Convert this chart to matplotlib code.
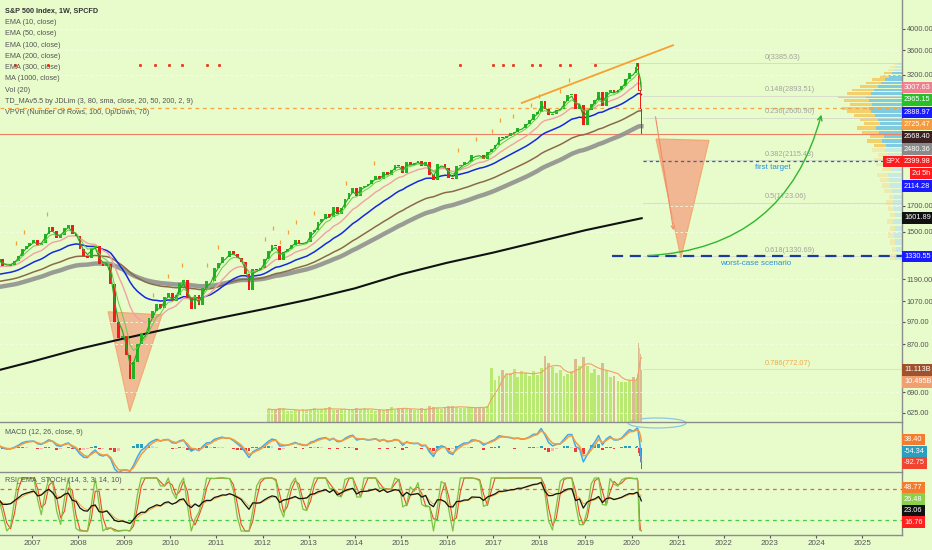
import numpy as np
import pandas as pd
import matplotlib
matplotlib.use("Agg")
import matplotlib.pyplot as plt
from matplotlib.patches import Polygon, FancyArrowPatch, Ellipse
from matplotlib.ticker import FixedLocator, FixedFormatter, NullLocator

plt.rcParams["font.family"] = ["Liberation Sans", "DejaVu Sans"]

BG = "#e8fbcb"
W, H = 932, 550

# ---------------- data ----------------
# monthly closes, Apr 2006 .. Jan 2020
month_closes = [
    1310.6, 1270.1, 1270.2, 1276.7, 1303.8, 1335.9, 1377.9, 1400.6, 1418.3,
    1438.2, 1406.8, 1420.9, 1482.4, 1530.6, 1503.4, 1455.3, 1474.0, 1526.8, 1549.4, 1481.1, 1468.4,
    1378.6, 1330.6, 1322.7, 1385.6, 1400.4, 1280.0, 1267.4, 1282.8, 1166.4, 968.8, 896.2, 903.3,
    825.9, 735.1, 797.9, 872.8, 919.1, 919.3, 987.5, 1020.6, 1057.1, 1036.2, 1095.6, 1115.1,
    1073.9, 1104.5, 1169.4, 1186.7, 1089.4, 1030.7, 1101.6, 1049.3, 1141.2, 1183.3, 1180.6, 1257.6,
    1286.1, 1327.2, 1325.8, 1363.6, 1345.2, 1320.6, 1292.3, 1218.9, 1131.4, 1253.3, 1247.0, 1257.6,
    1312.4, 1365.7, 1408.5, 1397.9, 1310.3, 1362.2, 1379.3, 1406.6, 1440.7, 1412.2, 1416.2, 1426.2,
    1498.1, 1514.7, 1569.2, 1597.6, 1630.7, 1606.3, 1685.7, 1633.0, 1681.6, 1756.5, 1805.8, 1848.4,
    1782.6, 1859.5, 1872.3, 1883.9, 1923.6, 1960.2, 1930.7, 2003.4, 1972.3, 2018.1, 2067.6, 2058.9,
    1995.0, 2104.5, 2067.9, 2085.5, 2107.4, 2063.1, 2103.8, 1972.2, 1920.0, 2079.4, 2080.4, 2043.9,
    1940.2, 1932.2, 2059.7, 2065.3, 2096.9, 2098.9, 2173.6, 2171.0, 2168.3, 2126.2, 2198.8, 2238.8,
    2278.9, 2363.6, 2362.7, 2384.2, 2411.8, 2423.4, 2470.3, 2471.7, 2519.4, 2575.3, 2647.6, 2673.6,
    2823.8, 2713.8, 2640.9, 2648.1, 2705.3, 2718.4, 2816.3, 2901.5, 2914.0, 2711.7, 2760.2, 2506.9,
    2704.1, 2784.5, 2834.4, 2945.8, 2752.1, 2941.8, 2980.4, 2926.5, 2976.7, 3037.6, 3141.0, 3230.8,
    3225.5,
]
first_open = 1294.9
week_dates = ["2020-02-05", "2020-02-12", "2020-02-19", "2020-02-26",
              "2020-03-04", "2020-03-11", "2020-03-18"]
week_closes = [3327.7, 3380.2, 3337.8, 2954.2, 2972.4, 2711.0, 2399.98]

# indicator seeds at the left edge of the chart
seed_ema10, seed_ema20, seed_ema50 = 1300, 1290, 1259
seed_ema100, seed_ema200, seed_ema300 = 1212, 1173, 1143
seed_fast, seed_slow, seed_signal = 1302, 1290, 10

# MA(1000)
ma1000_t = [2006.31, 2007.0, 2008.0, 2009.0, 2010.0, 2011.0, 2012.0, 2013.0,
            2014.0, 2015.0, 2016.0, 2017.0, 2018.0, 2019.0, 2020.22]
ma1000_v = [769, 800, 850, 895, 940, 985, 1030, 1080, 1140, 1220, 1290, 1355, 1430, 1510, 1600]

# weekly-typical volume (billions), monthly Feb 2012 .. Jan 2020, then weekly 2020
vol_month = [
    2.8, 2.5, 2.7, 3.0, 2.9, 2.4, 2.3, 2.6, 2.5, 2.8, 2.6,
    2.7, 2.9, 2.6, 2.8, 2.9, 3.1, 2.5, 2.6, 2.7, 2.8, 2.6, 2.5,
    3.0, 2.8, 2.9, 2.7, 2.5, 2.4, 2.6, 2.5, 2.8, 3.2, 2.6, 2.9,
    3.0, 2.8, 2.7, 2.6, 2.5, 2.9, 2.7, 3.4, 3.2, 2.9, 2.8, 3.1,
    3.5, 3.4, 3.2, 3.0, 2.9, 3.3, 3.1, 3.0, 3.2, 3.0, 3.4, 11.5,
    9.0, 9.8, 11.0, 10.2, 10.5, 11.2, 9.5, 10.8, 10.4, 9.9, 10.8, 10.1,
    11.5, 14.0, 12.5, 11.8, 10.5, 11.0, 9.8, 10.2, 10.8, 13.5, 12.0, 13.8,
    12.0, 10.5, 11.2, 10.0, 12.5, 11.0, 9.5, 9.8, 8.8, 8.5, 8.6, 8.9,
    9.5,
]
vol_week = [9.0, 9.4, 10.2, 16.9, 15.8, 14.5, 11.113]

# visible-range volume profile (rows of 50 points, 1325 .. 3375)
vp_up = [7, 6, 7, 8, 7, 9, 7, 8, 9, 8, 10, 12, 13, 14, 11, 15, 16, 14, 17, 16, 20,
         18, 23, 26, 22, 24, 27, 31, 33, 30, 33, 36, 31, 28, 24, 21, 17, 13, 10, 8, 7, 5]
vp_down = [5, 4, 5, 6, 5, 6, 5, 6, 7, 5, 8, 8, 9, 11, 9, 11, 12, 10, 13, 12, 15,
           14, 17, 19, 16, 18, 21, 24, 27, 22, 25, 28, 24, 22, 18, 15, 13, 9, 8, 6, 5, 3]
vp_value_area = (2275, 3225)

# TD markers
td_dot_t = [2006.63, 2007.35, 2009.34, 2009.67, 2009.97, 2010.25, 2010.79, 2011.05,
            2016.28, 2016.99, 2017.21, 2017.43, 2017.84, 2018.01, 2018.45, 2018.66, 2019.21]
td_dot_level = 3357
td_i_t = [2006.65, 2006.83, 2007.33, 2009.62, 2009.95, 2010.25, 2010.79, 2011.03, 2012.05,
          2012.23, 2012.38, 2012.55, 2012.72, 2013.11, 2013.81, 2014.42, 2016.24, 2016.63,
          2016.97, 2017.15, 2017.43, 2017.82, 2017.99, 2018.45, 2018.64]
td_i_p = [1420, 1498, 1634, 1105, 1211, 1277, 1277, 1393, 1448, 1527, 1427, 1498, 1572,
          1642, 1898, 2090, 2226, 2347, 2440, 2573, 2622, 2766, 2890, 2960, 3122]

# drawings
trend_t, trend_p = [2017.62, 2020.90], [2793, 3692]
tri_2009_t, tri_2009_p = [2008.65, 2009.82, 2009.12], [1018, 1003, 628]
tri_2020_t, tri_2020_p = [2020.53, 2021.68, 2021.07], [2347, 2331, 1321]
arrow_down = [(2020.51, 2648), (2020.92, 1490)]
arrow_up = [(2020.29, 1334), (2024.13, 2674)]
fib_levels = [3385.63, 2893.51, 2600.90, 2115.43, 1723.06, 1330.69, 772.07]
fib_names = ["0", "0.148", "0.236", "0.382", "0.5", "0.618", "0.786"]
first_target, worst_case = 2114.28, 1330.55
orange_level, last_price = 2725.47, 2399.98

price_ticks = [4000, 3600, 3200, 1700, 1500, 1190, 1070, 970, 870, 690, 625]
years = list(range(2007, 2026))

main_lab_v = [3007.63, 2965.15, 2888.97, 2725.47, 2668.40, 2480.36, 2399.98, 2399.98, 2114.28, 1601.89, 1330.55]
main_lab_t = ["3007.63", "2965.15", "2888.97", "2725.47", "2668.40", "2480.36", "2399.98", "2d 5h",
              "2114.28", "1601.89", "1330.55"]
main_lab_c = ["#f07f8f", "#27bf2a", "#1a1aff", "#f59a3e", "#3a2020", "#8a8a8a", "#ff1b1b",
              "#ff1b1b", "#1a1aff", "#111111", "#1a1aff"]
vol_lab_v, vol_lab_t, vol_lab_c = [11.113, 10.495], ["11.113B", "10.495B"], ["#a0522d", "#f0a070"]
macd_lab_v, macd_lab_t = [38.40, -54.34, -92.75], ["38.40", "-54.34", "-92.75"]
macd_lab_c = ["#f57c2c", "#2a9fbf", "#f04530"]
rsi_lab_v, rsi_lab_t = [48.77, 26.48, 23.06, 16.76], ["48.77", "26.48", "23.06", "16.76"]
rsi_lab_c = ["#f57c2c", "#8cd04a", "#111111", "#ff2020"]


# ---------------- helpers ----------------
def dec_year(dates):
    d = pd.DatetimeIndex(dates)
    return np.asarray(d.year + (d.dayofyear - 0.5) / 365.25)


def ema(tw, vals, n, seed):
    k = 1 - 2.0 / (n + 1)
    out, e, prev = [], seed, tw[0] - 4.33
    for w, v in zip(tw, vals):
        e = e + (1 - k ** (w - prev)) * (v - e)
        out.append(e)
        prev = w
    return np.array(out)


def rsi_calc(tw, vals, n, pv, ag, al):
    k = 1 - 1.0 / n
    out, prev = [], tw[0] - 4.33
    for w, v in zip(tw, vals):
        a = 1 - k ** (w - prev)
        d = v - pv
        ag += a * (max(d, 0) - ag)
        al += a * (max(-d, 0) - al)
        out.append(100 - 100 / (1 + ag / al))
        pv, prev = v, w
    return np.array(out)


def rect(x0, y0, x1, y1):
    return [x0 / W, 1 - y1 / H, (x1 - x0) / W, (y1 - y0) / H]


# ---------------- series ----------------
mdates = pd.date_range("2006-04-01", periods=len(month_closes), freq="MS") + pd.Timedelta(days=14)
dates = mdates.append(pd.DatetimeIndex(week_dates))
closes = np.array(month_closes + week_closes)
opens = np.r_[first_open, closes[:-1]]
t = dec_year(dates)
tw = np.asarray((dates - dates[0]).days) / 7.0
nm = len(month_closes)
widths = np.where(np.arange(len(closes)) < nm, 0.062, 0.035)
up = closes >= opens

ema10 = ema(tw, closes, 10, seed_ema10)
ema20 = ema(tw, closes, 20, seed_ema20)
ema50 = ema(tw, closes, 50, seed_ema50)
ema100 = ema(tw, closes, 100, seed_ema100)
ema200 = ema(tw, closes, 200, seed_ema200)
ema300 = ema(tw, closes, 300, seed_ema300)

macd = ema(tw, closes, 12, seed_fast) - ema(tw, closes, 26, seed_slow)
signal = ema(tw, macd, 9, seed_signal)
hist = macd - signal

rsi = rsi_calc(tw, closes, 45, first_open, 14.0, 11.0)
rsi_ema = ema(tw, rsi, 10, 55)
s = pd.Series(closes, index=dates)
lo, hi = s.rolling("100D").min(), s.rolling("100D").max()
raw = ((s - lo) / (hi - lo).replace(0, np.nan) * 100).fillna(60)
stoch_k = raw.rolling(2, min_periods=1).mean().values
stoch_d = pd.Series(stoch_k).rolling(2, min_periods=1).mean().values

vdates = (pd.date_range("2012-02-01", periods=len(vol_month), freq="MS") + pd.Timedelta(days=14)).append(
    pd.DatetimeIndex(week_dates))
vol = np.array(vol_month + vol_week)
vt = dec_year(vdates)
vup = s.reindex(vdates).values >= pd.Series(opens, index=dates).reindex(vdates).values
vwid = np.r_[np.full(len(vol_month), 0.062), np.full(len(vol_week), 0.035)]
vol_ma = pd.Series(vol).rolling(5, min_periods=1).mean().values

# ---------------- figure ----------------
fig = plt.figure(figsize=(W / 100, H / 100), dpi=100, facecolor=BG)
ax = fig.add_axes(rect(0, 0, 902, 422))
axm = fig.add_axes(rect(0, 423, 902, 472))
axr = fig.add_axes(rect(0, 473, 902, 535))
XL = (2006.306, 2025.864)
YL = (597.5, 4594)

for a in (ax, axm, axr):
    a.set_facecolor("none")
    a.set_xlim(*XL)
    for sp in ("top", "left"):
        a.spines[sp].set_visible(False)
    for sp in ("right", "bottom"):
        a.spines[sp].set_color("#8c8c8c")
        a.spines[sp].set_linewidth(1)
    a.tick_params(axis="x", bottom=False, labelbottom=False)

# volume (overlay, own scale)
axv = ax.twinx()
axv.set_facecolor("none")
axv.set_ylim(0, 90)
axv.set_yticks([])
for sp in axv.spines.values():
    sp.set_visible(False)
axv.bar(vt, vol, width=vwid, color=np.where(vup, "#b4e66a", "#d9b48c"), alpha=0.9, lw=0)
axv.plot(vt, vol_ma, color="#f2a06a", lw=0.8)

# volume profile
axp = fig.add_axes(rect(780, 0, 902, 422))
axp.axis("off")
axp.set_yscale("log")
axp.set_ylim(*YL)
axp.set_xlim(122, 0)
vp_p = np.arange(1325, 3400, 50)
inside = (vp_p >= vp_value_area[0]) & (vp_p <= vp_value_area[1])
axp.barh(vp_p, vp_up, height=38, color=np.where(inside, "#6ec3e4", "#c3e8e4"), lw=0, alpha=0.85)
axp.barh(vp_p, vp_down, left=vp_up, height=38, color=np.where(inside, "#f6c95e", "#f1e7a8"), lw=0, alpha=0.85)

axv.set_zorder(1)
axp.set_zorder(2)
ax.set_zorder(3)

# main price panel
ax.set_yscale("log")
ax.set_ylim(*YL)
ax.yaxis.tick_right()
ax.yaxis.set_major_locator(FixedLocator(price_ticks))
ax.yaxis.set_major_formatter(FixedFormatter(["%.2f" % v for v in price_ticks]))
ax.yaxis.set_minor_locator(NullLocator())
ax.tick_params(axis="y", which="both", length=2, pad=1.5, labelsize=5.3, colors="#555555")
ax.grid(axis="y", color="#f6fee8", lw=0.6, ls=(0, (3, 3)))

ax.axhline(orange_level, color="#f5a347", lw=0.9, ls=(0, (3, 3)), zorder=1)
ax.axhline(last_price, color="#f08064", lw=0.8, zorder=1)

for lv, nmf in zip(fib_levels, fib_names):
    c = "#f0a848" if nmf == "0.786" else "#a4a4a0"
    x0 = 2019.1 if nmf == "0" else 2020.25
    ax.plot([x0, XL[1]], [lv, lv], color="#d4d8c8" if nmf != "0.786" else "#f3d7a8", lw=0.6, zorder=1)
    ax.text(2022.89, lv * 1.012, "%s(%.2f)" % (nmf, lv), color=c, fontsize=5.3, va="bottom", ha="left")

ax.plot([2020.25, XL[1]], [first_target, first_target], color="#1f6f9f", lw=0.9, ls=(0, (2.5, 2.5)), zorder=2)
ax.plot([2019.58, XL[1]], [worst_case, worst_case], color="#1a3c9e", lw=1.6, ls=(0, (5, 3)), zorder=2)
ax.text(2023.07, 2041, "first target", color="#2a90d8", fontsize=5.8, ha="center", va="center")
ax.text(2022.70, 1283, "worst-case scenario", color="#2a90d8", fontsize=5.8, ha="center", va="center")

ax.add_patch(Polygon(list(zip(tri_2009_t, tri_2009_p)), closed=True, fc="#f3aa88", ec="#f5a060",
                     lw=0.8, alpha=0.8, zorder=1.5))
ax.add_patch(Polygon(list(zip(tri_2020_t, tri_2020_p)), closed=True, fc="#f3aa88", ec="#f5a060",
                     lw=0.8, alpha=0.85, zorder=1.5))
ax.add_patch(FancyArrowPatch(arrow_down[0], arrow_down[1], arrowstyle="->", mutation_scale=6,
                             color="#f08a6a", lw=0.8, zorder=2))
ax.add_patch(FancyArrowPatch(arrow_up[0], arrow_up[1], arrowstyle="->", mutation_scale=8,
                             connectionstyle="arc3,rad=0.37", color="#2eb82e", lw=1.0, zorder=2))
ax.plot(trend_t, trend_p, color="#f7a030", lw=1.3, zorder=3)

ax.plot(ma1000_t, ma1000_v, color="#111111", lw=1.5, zorder=2)
ax.plot(t, ema300, color="#8c8c8c", lw=3.2, alpha=0.85, zorder=2)
ax.plot(t, ema200, color="#8b6a4a", lw=1.1, zorder=2)
ax.plot(t, ema100, color="#1428e0", lw=1.1, zorder=2)
ax.plot(t, ema50, color="#f2a2a2", lw=1.0, zorder=2)
ax.bar(t, np.abs(closes - opens), bottom=np.minimum(opens, closes), width=widths,
       color=np.where(up, "#22b422", "#f01c1c"), lw=0, zorder=4)
ax.plot(t, ema20, color="#6acc48", lw=0.7, zorder=5)
ax.plot(t, ema10, color="#1fa81f", lw=0.8, zorder=5)
ax.plot(td_dot_t, [td_dot_level] * len(td_dot_t), ls="none", marker="s", ms=1.1, color="#f03a20", zorder=5)
ax.plot(td_i_t, td_i_p, ls="none", marker="|", ms=3.5, mew=0.9, color="#f5a030", zorder=5)

# MACD panel
axm.set_ylim(-110, 115)
axm.set_yticks([])
hc = []
for i, h in enumerate(hist):
    rising = i == 0 or h >= hist[i - 1]
    if h >= 0:
        hc.append("#26a1b9" if rising else "#b2e0ea")
    else:
        hc.append("#f7b5b5" if rising else "#f03a3a")
axm.bar(t, hist, width=widths, color=hc, lw=0)
axm.plot(t, macd, color="#3fa9f5", lw=1.1)
axm.plot(t, signal, color="#f59b3c", lw=1.1)

# RSI / stoch panel
axr.set_ylim(-7.5, 109.4)
axr.set_yticks([])
axr.axhline(80, color="#e8604c", lw=0.9, ls=(0, (3, 3)))
axr.axhline(20, color="#44cc44", lw=0.9, ls=(0, (3, 3)))
axr.plot(t, stoch_d, color="#f04a2a", lw=0.8)
axr.plot(t, stoch_k, color="#7dc242", lw=0.9)
axr.plot(t, rsi_ema, color="#f5a030", lw=0.6)
axr.plot(t, rsi, color="#111111", lw=0.9)
axr.set_xticks(years)
axr.set_xticklabels([str(y) for y in years])
axr.tick_params(axis="x", bottom=True, labelbottom=True, length=2, pad=1.5, labelsize=5.8,
                colors="#555555")

fig.add_artist(Ellipse((657 / W, 1 - 423 / H), 58 / W, 10 / H, transform=fig.transFigure,
                       fill=False, ec="#8cc8e0", lw=0.9))

# ---------------- legend texts ----------------
legend = ["EMA (10, close)", "EMA (50, close)", "EMA (100, close)", "EMA (200, close)",
          "EMA (300, close)", "MA (1000, close)", "Vol (20)",
          "TD_MAv5.5 by JDLim (3, 80, sma, close, 20, 50, 200, 2, 9)",
          "VPVR (Number Of Rows, 100, Up/Down, 70)"]
fig.text(5 / W, 1 - 11 / H, "S&P 500 Index, 1W, SPCFD", fontsize=5.2, color="#333333",
         fontweight="bold", va="center")
for i, s_ in enumerate(legend):
    fig.text(5 / W, 1 - (22.5 + 11.3 * i) / H, s_, fontsize=5.2, color="#555555", va="center")
fig.text(5 / W, 1 - 432 / H, "MACD (12, 26, close, 9)", fontsize=5.2, color="#555555", va="center")
fig.text(5 / W, 1 - 481 / H, "RSI_EMA_STOCH (14, 3, 3, 14, 10)", fontsize=5.2, color="#555555",
         va="center")


# ---------------- right-hand value labels ----------------
def side_labels(axis, vals, texts, colors, push, spacing, limit=None):
    xr = axis.get_xlim()[1]
    ys = [axis.transData.transform((xr, v))[1] for v in vals]
    order = sorted(range(len(vals)), key=(lambda i: -ys[i]) if push == "down" else (lambda i: ys[i]))
    last = None
    for i in order:
        y = ys[i]
        if limit is not None:
            y = max(y, limit)
        if last is not None:
            y = min(y, last - spacing) if push == "down" else max(y, last + spacing)
        last = y
        box = dict(boxstyle="square,pad=0.3", fc=colors[i], ec="none")
        if texts[i] == "2d 5h":
            fig.text(930 / W, y / H, texts[i], fontsize=5.3, color="white", ha="right", va="center", bbox=box)
            continue
        fig.text(904 / W, y / H, texts[i], fontsize=5.3, color="white", ha="left", va="center", bbox=box)
        if texts[i] == "%.2f" % last_price and colors[i] == "#ff1b1b":
            fig.text(900 / W, y / H, "SPX", fontsize=5.3, color="white", ha="right", va="center", bbox=box)


side_labels(ax, main_lab_v, main_lab_t, main_lab_c, "down", 12.3)
side_labels(axv, vol_lab_v, vol_lab_t, vol_lab_c, "down", 12.0)
side_labels(axm, macd_lab_v, macd_lab_t, macd_lab_c, "up", 11.5, limit=(550 - 472) + 9)
side_labels(axr, rsi_lab_v, rsi_lab_t, rsi_lab_c, "up", 11.5, limit=(550 - 535) + 11)

fig.savefig("out.png", dpi=100, facecolor=BG)
